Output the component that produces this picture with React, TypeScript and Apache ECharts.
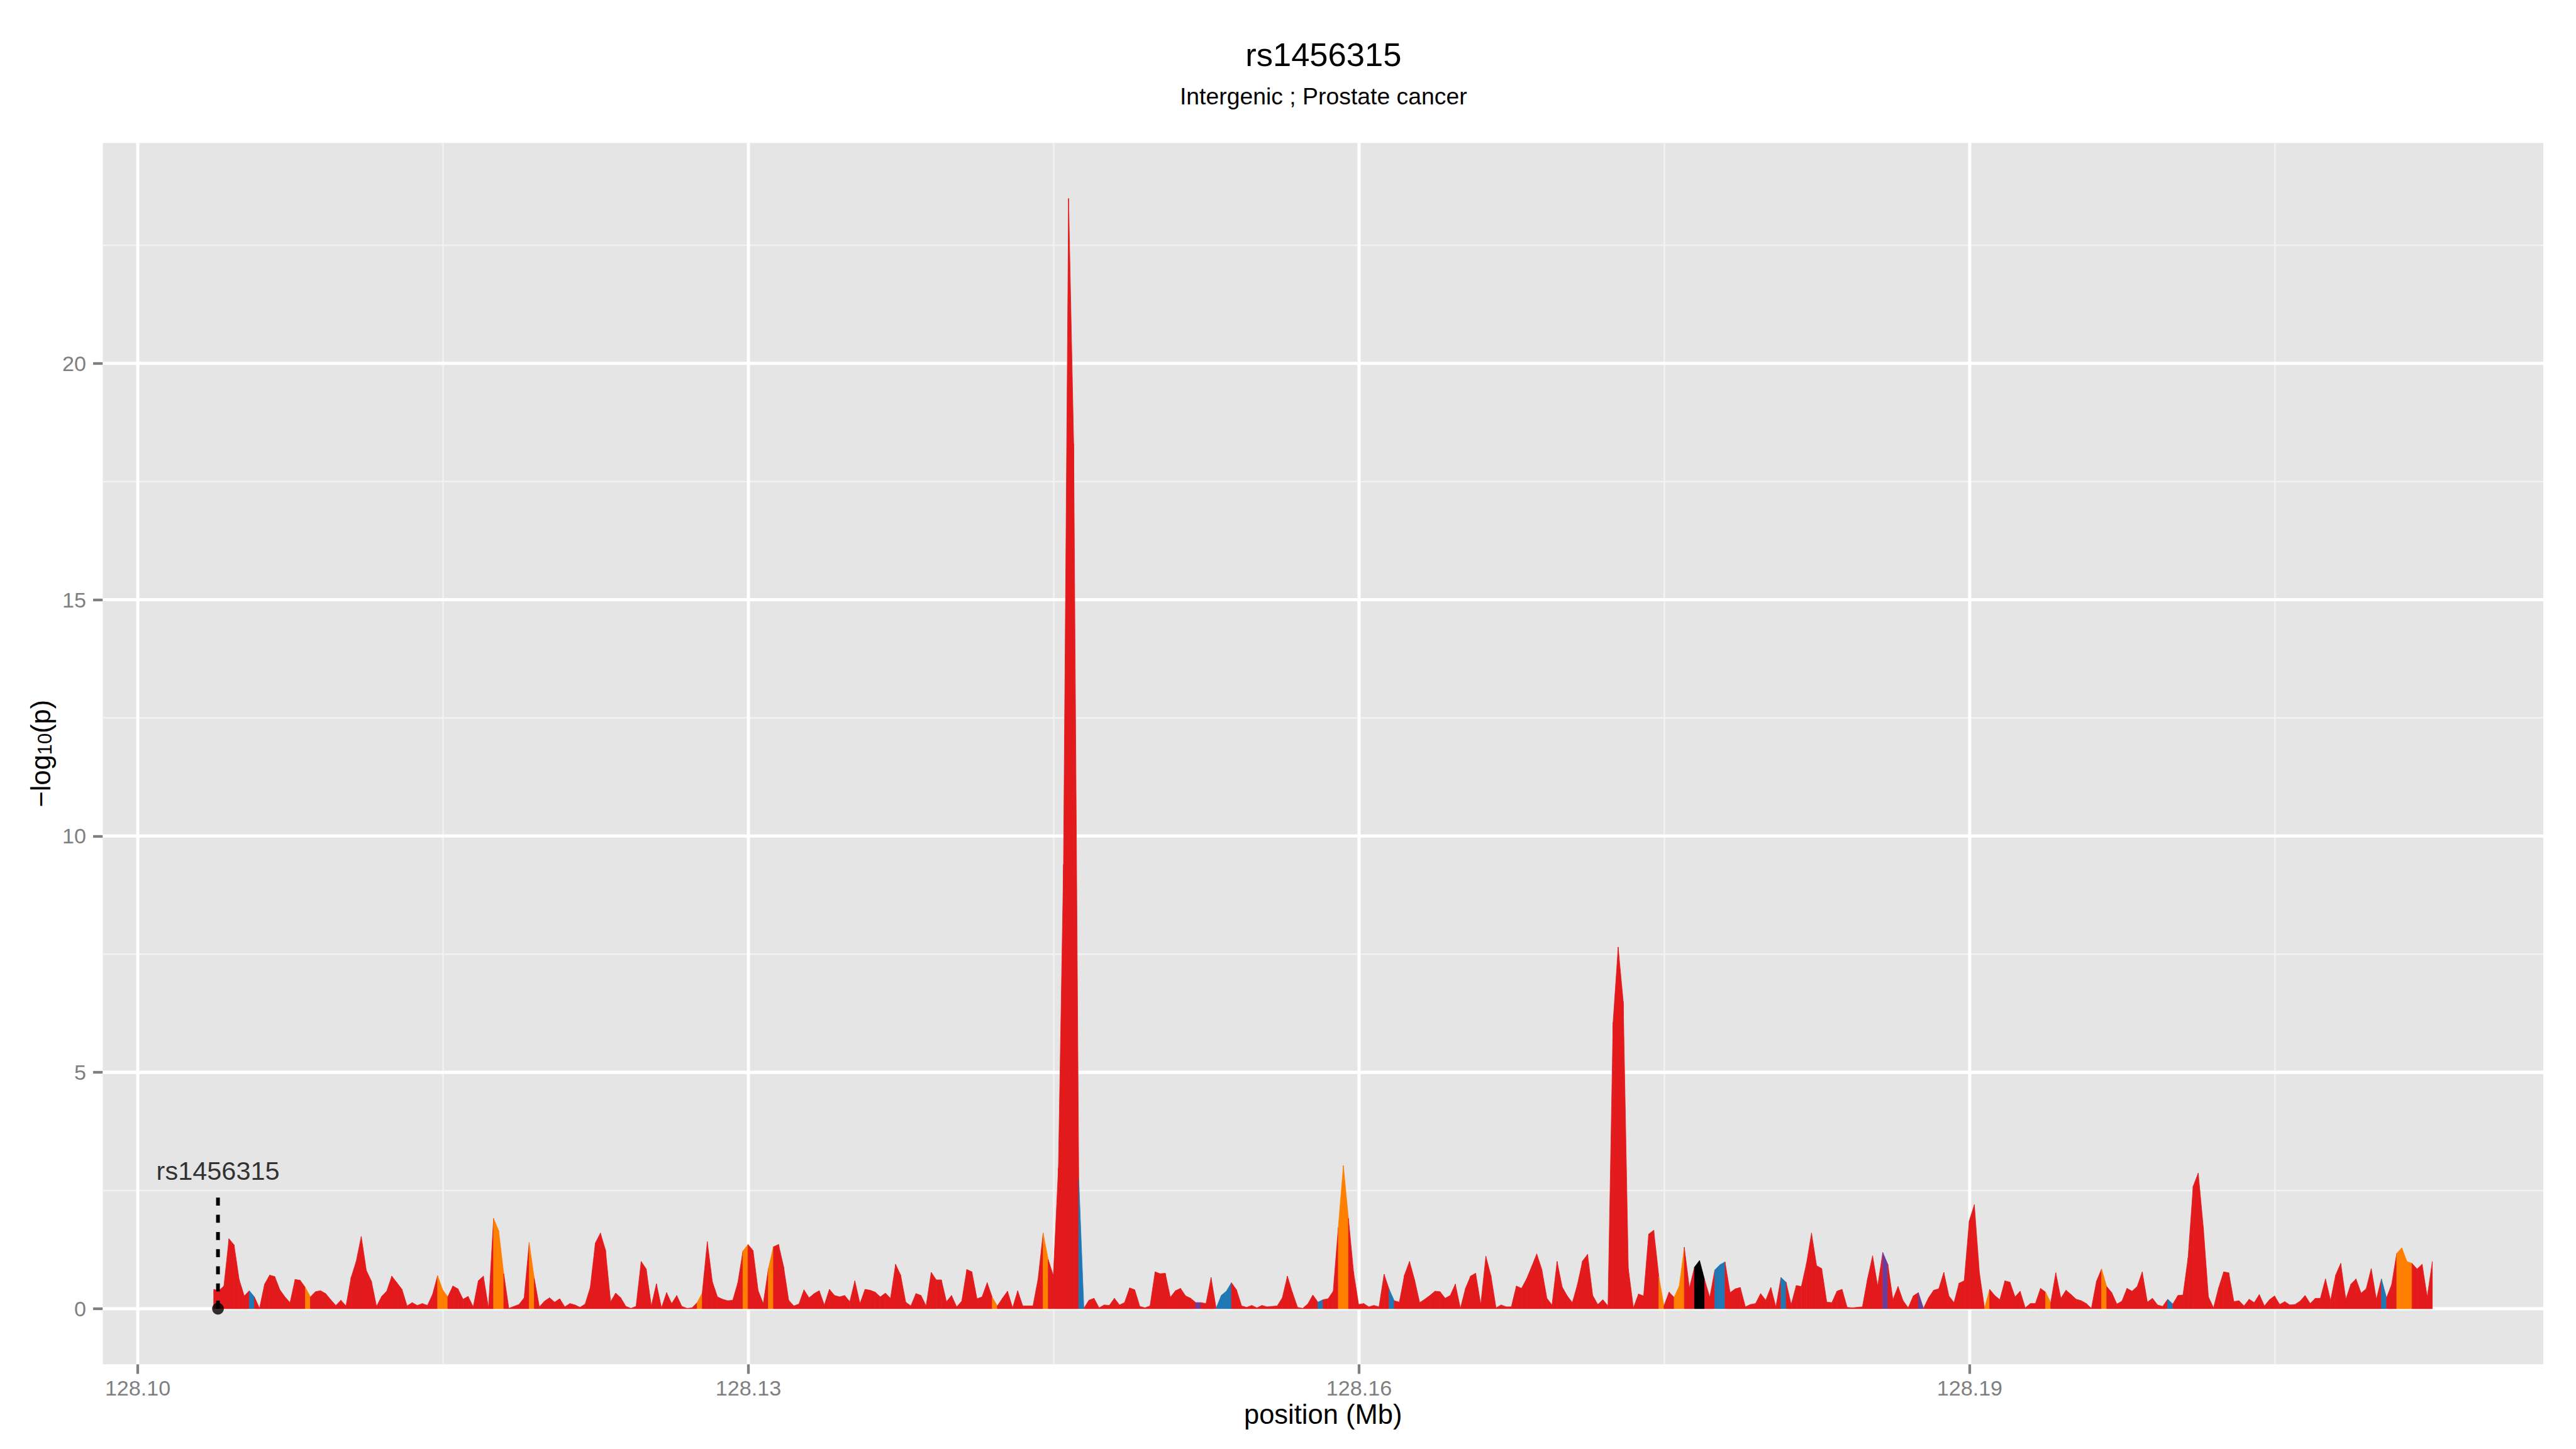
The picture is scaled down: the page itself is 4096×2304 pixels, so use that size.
import { useEffect, useRef } from 'react';
import * as echarts from 'echarts';

// ---------- text ----------
const TITLE = 'rs1456315';
const SUBTITLE = 'Intergenic ; Prostate cancer';
const X_AXIS_TITLE = 'position (Mb)';
const Y_AXIS_TITLE_RICH = '{a|\u2212log}{b|10}{a|(p)}';

// ---------- data ----------
// SNPs on a regular 250 bp grid starting at 128.10373 Mb
const POS_START_MB = 128.10373;
const POS_STEP_MB = 0.00025;

// -log10(p) per SNP, left to right
const logP = [
  // 128.1037 ..
  0.41, 0.38, 0.48, 1.48, 1.35, 0.62, 0.27, 0.38, 0.25, 0.01,
  0.52, 0.71, 0.68, 0.40, 0.25, 0.13, 0.62, 0.60, 0.45, 0.25,
  0.36, 0.38, 0.32, 0.19, 0.07, 0.18, 0.06, 0.66, 1.00, 1.53,
  0.81, 0.58, 0.05, 0.26, 0.37, 0.69, 0.55, 0.41, 0.06, 0.13,
  0.07, 0.11, 0.07,
  // ..
  0.30, 0.70, 0.40, 0.25, 0.48, 0.42, 0.20, 0.26, 0.04, 0.59,
  0.69, 0.02, 1.91, 1.65, 0.74, 0.01, 0.05, 0.09, 0.23, 1.40,
  0.64, 0.04, 0.16, 0.23, 0.14, 0.21, 0.04, 0.11, 0.08, 0.03,
  0.10, 0.45, 1.39, 1.60, 1.24, 0.15, 0.33, 0.23, 0.05, 0.01,
  0.05, 1.00, 0.84, 0.06, 0.53, 0.02, 0.34, 0.11, 0.28, 0.05,
  0.01, 0.02, 0.13, 0.33, 1.42, 0.57, 0.25, 0.20,
  // ..
  0.17, 0.18, 0.55, 1.22, 1.36, 1.23, 0.38, 0.11, 0.85, 1.31,
  1.36, 0.89, 0.18, 0.06, 0.10, 0.40, 0.23, 0.32, 0.38, 0.08,
  0.41, 0.28, 0.25, 0.28, 0.15, 0.59, 0.11, 0.41, 0.39, 0.35,
  0.25, 0.33, 0.22, 0.94, 0.71, 0.14, 0.06, 0.32, 0.28, 0.06,
  0.77, 0.61, 0.61, 0.15, 0.28, 0.04, 0.16, 0.83, 0.78, 0.21,
  0.25, 0.55, 0.24, 0.06, 0.22, 0.37, 0.02, 0.38,
  // .. main peak
  0.06, 0.06, 0.06, 0.63, 1.60, 1.04, 0.70, 2.98, 9.40, 23.49,
  18.30, 2.74, 0.01, 0.18, 0.22, 0.02, 0.08, 0.07, 0.22, 0.08,
  0.13, 0.44, 0.40, 0.05, 0.02, 0.06, 0.78, 0.74, 0.75, 0.24,
  0.38, 0.43, 0.27, 0.22, 0.13, 0.13, 0.11, 0.66, 0.01, 0.28,
  0.37, 0.55, 0.40, 0.06, 0.03, 0.07, 0.02, 0.07, 0.04, 0.05,
  0.06, 0.23, 0.69, 0.34, 0.03, 0.01, 0.10, 0.29,
  // ..
  0.14, 0.19, 0.21, 0.37, 1.72, 3.03, 1.91, 0.78, 0.09, 0.11,
  0.04, 0.07, 0.04, 0.73, 0.41, 0.17, 0.14, 0.71, 1.00, 0.61,
  0.13, 0.20, 0.28, 0.37, 0.36, 0.22, 0.28, 0.52, 0.01, 0.43,
  0.69, 0.75, 0.09, 1.11, 0.70, 0.02, 0.08, 0.04, 0.04, 0.48,
  0.43, 0.63, 0.89, 1.16, 0.83, 0.22, 0.08, 1.00, 0.46, 0.27,
  0.13, 0.51, 1.01, 1.15, 0.28, 0.09, 0.19, 0.06,
  // .. second peak
  6.06, 7.65, 6.50, 0.85, 0.02, 0.31, 0.27, 1.58, 1.66, 0.68,
  0.06, 0.35, 0.24, 0.48, 1.30, 0.44, 0.88, 1.02, 0.61, 0.24,
  0.82, 0.93, 0.99, 0.34, 0.42, 0.45, 0.04, 0.09, 0.11, 0.32,
  0.18, 0.45, 0.04, 0.66, 0.56, 0.09, 0.49, 0.47, 0.95, 1.60,
  0.91, 0.85, 0.14, 0.13, 0.37, 0.41, 0.03, 0.02, 0.03, 0.04,
  0.63, 1.12, 0.48, 1.19, 0.94, 0.19, 0.47, 0.17,
  // ..
  0.02, 0.27, 0.34, 0.01, 0.23, 0.39, 0.42, 0.77, 0.27, 0.13,
  0.54, 0.59, 1.86, 2.20, 0.76, 0.01, 0.41, 0.28, 0.19, 0.59,
  0.56, 0.25, 0.37, 0.02, 0.11, 0.11, 0.43, 0.35, 0.13, 0.76,
  0.22, 0.39, 0.30, 0.20, 0.17, 0.11, 0.01, 0.58, 0.84, 0.47,
  0.34, 0.10, 0.16, 0.43, 0.37, 0.47, 0.78, 0.14, 0.22, 0.08,
  0.05, 0.20, 0.10, 0.28, 0.29, 1.08, 2.59, 2.87,
  // .. 128.2127
  1.72, 0.25, 0.02, 0.44, 0.78, 0.76, 0.15, 0.17, 0.06, 0.20,
  0.13, 0.30, 0.06, 0.19, 0.27, 0.09, 0.15, 0.08, 0.09, 0.16,
  0.28, 0.11, 0.22, 0.22, 0.63, 0.18, 0.71, 0.96, 0.20, 0.52,
  0.63, 0.33, 0.42, 0.85, 0.20, 0.63, 0.23, 0.51, 1.17, 1.29,
  1.00, 0.96, 0.84, 0.94, 0.25, 1.00,
];

// segment i (from SNP i to SNP i+1) colour classes; everything else is red
const orangeSegments = [18, 44, 45, 55, 56, 62, 95, 104, 109, 153, 163, 221, 222, 284, 287, 288, 348, 360, 371, 429, 430, 431];
const blueSegments = [7, 170, 197, 198, 199, 217, 231, 295, 296, 308, 384, 426];
const purpleSegments = [193, 328, 335];
const blackSegments = [291, 292];

// axis ticks
const X_TICKS = [128.10, 128.13, 128.16, 128.19];
const X_MINOR = [128.115, 128.145, 128.175, 128.205];
const Y_TICKS = [0, 5, 10, 15, 20];
const Y_MINOR = [2.5, 7.5, 12.5, 17.5, 22.5];

// annotated SNP
const SNP_NAME = 'rs1456315';
const SNP_POS_MB = 128.10394;
const SNP_LINE_TOP = 2.35;
const SNP_LABEL_Y = 2.92;

// ---------- styling ----------
const S = 4096 / 4800;
const FONT = "'Liberation Sans', Arial, Helvetica, sans-serif";
const RED = '#E31A1C';
const ORANGE = '#FF7F00';
const BLUE = '#1F78B4';
const PURPLE = '#6A3D9A';
const BLACK = '#000000';
const COLOR_LIST = [RED, ORANGE, BLUE, PURPLE, BLACK];

function segColorIndex(i: number): number {
  if (orangeSegments.includes(i)) return 1;
  if (blueSegments.includes(i)) return 2;
  if (purpleSegments.includes(i)) return 3;
  if (blackSegments.includes(i)) return 4;
  return 0;
}

function buildOption() {
  const positions = logP.map((_, i) => +(POS_START_MB + i * POS_STEP_MB).toFixed(6));
  const xLo = positions[0];
  const xHi = positions[positions.length - 1];
  const xPad = (xHi - xLo) * 0.05;
  const xMin = xLo - xPad;
  const xMax = xHi + xPad;
  const yTop = Math.max(...logP);
  const yMin = -yTop * 0.05;
  const yMax = yTop * 1.05;

  const areaData: number[][] = [];
  for (let i = 0; i < logP.length - 1; i++) {
    areaData.push([positions[i], logP[i], positions[i + 1], logP[i + 1], segColorIndex(i)]);
  }

  const vGrid = (vals: number[], color: string, width: number, z: number) => ({
    type: 'custom',
    z,
    silent: true,
    data: vals.map((v) => [v, 0]),
    renderItem: (params: any, api: any) => {
      const x = api.coord([api.value(0), 0])[0];
      const cs = params.coordSys;
      return {
        type: 'line',
        shape: { x1: x, y1: cs.y, x2: x, y2: cs.y + cs.height },
        style: { stroke: color, lineWidth: width },
      };
    },
  });
  const hGrid = (vals: number[], color: string, width: number, z: number) => ({
    type: 'custom',
    z,
    silent: true,
    data: vals.map((v) => [xMin, v]),
    renderItem: (params: any, api: any) => {
      const y = api.coord([xMin, api.value(1)])[1];
      const cs = params.coordSys;
      return {
        type: 'line',
        shape: { x1: cs.x, y1: y, x2: cs.x + cs.width, y2: y },
        style: { stroke: color, lineWidth: width },
      };
    },
  });

  const tickLabelStyle = { color: '#7F7F7F', fontSize: 40 * S, fontFamily: FONT };

  return {
    animation: false,
    backgroundColor: '#FFFFFF',
    grid: {
      left: 191.5 * S,
      right: 61 * S,
      top: 266.3 * S,
      bottom: 158 * S,
      show: true,
      backgroundColor: '#E5E5E5',
      borderWidth: 0,
      containLabel: false,
      outerBoundsMode: 'none',
    },
    xAxis: {
      type: 'value',
      min: xMin,
      max: xMax,
      axisLine: { show: false, onZero: false },
      splitLine: { show: false },
      axisTick: {
        show: true,
        customValues: X_TICKS,
        length: 18 * S,
        lineStyle: { color: '#7F7F7F', width: 5 * S },
      },
      axisLabel: {
        customValues: X_TICKS,
        formatter: (v: number) => v.toFixed(2),
        margin: 24 * S,
        ...tickLabelStyle,
      },
      name: X_AXIS_TITLE,
      nameLocation: 'middle',
      nameGap: 68 * S,
      nameMoveOverlap: false,
      nameTextStyle: { color: '#000', fontSize: 51 * S, fontFamily: FONT },
    },
    yAxis: {
      type: 'value',
      min: yMin,
      max: yMax,
      axisLine: { show: false, onZero: false },
      splitLine: { show: false },
      axisTick: {
        show: true,
        customValues: Y_TICKS,
        length: 18 * S,
        lineStyle: { color: '#7F7F7F', width: 5 * S },
      },
      axisLabel: {
        customValues: Y_TICKS,
        margin: 31 * S,
        ...tickLabelStyle,
      },
      name: Y_AXIS_TITLE_RICH,
      nameLocation: 'middle',
      nameRotate: 90,
      nameGap: 89 * S,
      nameMoveOverlap: false,
      nameTextStyle: {
        color: '#000',
        fontFamily: FONT,
        rich: {
          a: { fontSize: 51 * S, lineHeight: 58 * S, color: '#000', fontFamily: FONT, verticalAlign: 'bottom' },
          b: { fontSize: 36 * S, lineHeight: 30 * S, color: '#000', fontFamily: FONT, verticalAlign: 'bottom' },
        },
      },
    },
    graphic: [
      {
        type: 'text',
        z: 10,
        x: 2466 * S,
        y: 101 * S,
        style: {
          text: TITLE,
          font: `${61.6 * S}px ${FONT}`,
          fill: '#000',
          textAlign: 'center',
          textVerticalAlign: 'middle',
          align: 'center',
          verticalAlign: 'middle',
        },
      },
      {
        type: 'text',
        z: 10,
        x: 2466 * S,
        y: 179 * S,
        style: {
          text: SUBTITLE,
          font: `${43.8 * S}px ${FONT}`,
          fill: '#000',
          textAlign: 'center',
          textVerticalAlign: 'middle',
          align: 'center',
          verticalAlign: 'middle',
        },
      },
    ],
    series: [
      vGrid(X_MINOR, '#F2F2F2', 3 * S, 1),
      hGrid(Y_MINOR, '#F2F2F2', 3 * S, 1),
      vGrid(X_TICKS, '#FFFFFF', 5.9 * S, 2),
      hGrid(Y_TICKS, '#FFFFFF', 5.9 * S, 2),
      {
        type: 'custom',
        z: 3,
        silent: true,
        data: areaData,
        encode: { x: [0, 2], y: [1, 3] },
        renderItem: (_params: any, api: any) => {
          const x0 = api.value(0);
          const y0 = api.value(1);
          const x1 = api.value(2);
          const y1 = api.value(3);
          const c = COLOR_LIST[api.value(4)];
          return {
            type: 'polygon',
            shape: {
              points: [api.coord([x0, 0]), api.coord([x0, y0]), api.coord([x1, y1]), api.coord([x1, 0])],
            },
            style: { fill: c, stroke: c, lineWidth: 0.8, lineJoin: 'bevel' },
          };
        },
      },
      {
        type: 'line',
        z: 4,
        silent: true,
        data: [
          [SNP_POS_MB, 0],
          [SNP_POS_MB, SNP_LINE_TOP],
        ],
        symbol: 'none',
        lineStyle: { color: BLACK, width: 7 * S, type: [15 * S, 17 * S] },
      },
      {
        type: 'scatter',
        z: 5,
        silent: true,
        data: [[SNP_POS_MB, 0]],
        symbol: 'circle',
        symbolSize: 22 * S,
        itemStyle: { color: BLACK },
      },
      {
        type: 'scatter',
        z: 5,
        silent: true,
        data: [[SNP_POS_MB, SNP_LABEL_Y]],
        symbol: 'circle',
        symbolSize: 1,
        itemStyle: { color: 'rgba(0,0,0,0)' },
        label: {
          show: true,
          position: 'inside',
          formatter: SNP_NAME,
          color: BLACK,
          fontSize: 48.6 * S,
          fontFamily: FONT,
        },
      },
    ],
  };
}

export default function App() {
  const ref = useRef<HTMLDivElement>(null);
  useEffect(() => {
    if (!ref.current) return;
    const chart = echarts.init(ref.current, undefined, { renderer: 'svg' });
    chart.setOption(buildOption() as any);
    return () => chart.dispose();
  }, []);
  return (
    <div
      ref={ref}
      style={{ position: 'fixed', left: 0, top: 0, width: 4096, height: 2304, background: '#FFFFFF' }}
    />
  );
}
